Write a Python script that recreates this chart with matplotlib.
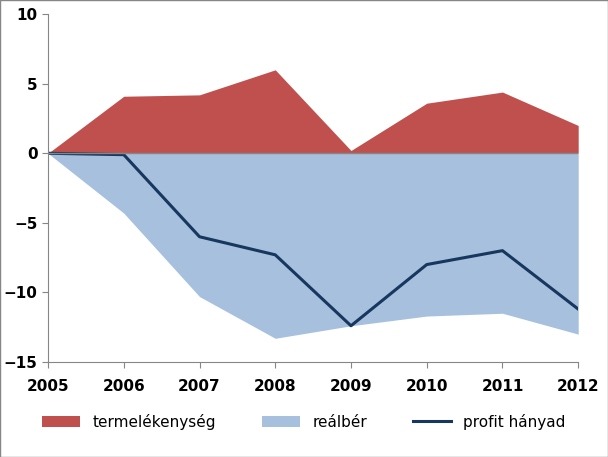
import matplotlib.pyplot as plt

years = [2005, 2006, 2007, 2008, 2009, 2010, 2011, 2012]
termelekenyseg = [0, 4.1, 4.2, 6.0, 0.2, 3.6, 4.4, 2.0]
realber = [0, -4.3, -10.3, -13.3, -12.4, -11.7, -11.5, -13.0]
profit_hanyad = [0, -0.1, -6.0, -7.3, -12.4, -8.0, -7.0, -11.2]

fig = plt.figure(figsize=(6.08, 4.57), dpi=100)
ax = fig.add_axes([0.079, 0.208, 0.872, 0.761])

ax.fill_between(years, 0, termelekenyseg, color="#C0504D", linewidth=0, label="termelékenység")
ax.fill_between(years, 0, realber, color="#A7C0DE", linewidth=0, label="reálbér")
ax.plot(years, profit_hanyad, color="#17375E", linewidth=2.2, label="profit hányad")
ax.axhline(0, color="#868686", linewidth=1)

ax.set_xlim(2005, 2012)
ax.set_ylim(-15, 10)
ax.set_xticks(years)
ax.set_yticks([-15, -10, -5, 0, 5, 10])
for s in ["top", "right"]:
    ax.spines[s].set_visible(False)
for s in ["left", "bottom"]:
    ax.spines[s].set_color("#868686")
ax.tick_params(axis="both", labelsize=11, color="#868686", length=4)
for lab in ax.get_xticklabels() + ax.get_yticklabels():
    lab.set_fontweight("bold")
ax.tick_params(axis="x", pad=8)

fig.legend(loc="lower center", bbox_to_anchor=(0.5, 0.03), ncol=3, frameon=False,
           fontsize=11, handlelength=2.5, columnspacing=3)
fig.patches.append(plt.Rectangle((0, 0), 1, 1, transform=fig.transFigure,
                                 fill=False, edgecolor="#868686", linewidth=1))
fig.savefig("out.png", dpi=100)
